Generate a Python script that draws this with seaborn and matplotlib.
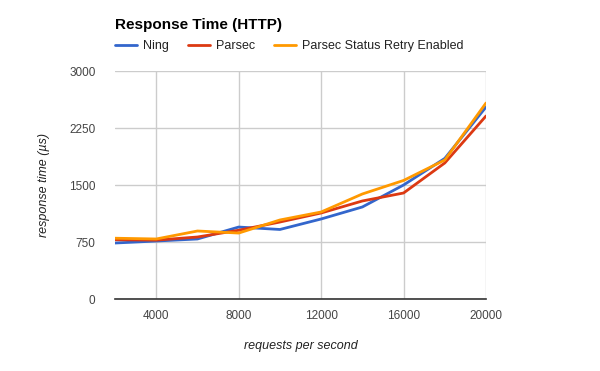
import matplotlib
matplotlib.use('Agg')
import matplotlib.pyplot as plt
import pandas as pd
import seaborn as sns

sns.set_theme(style='white')
plt.rcParams['font.family'] = ['Liberation Sans', 'DejaVu Sans']

# values
rps = [2000, 4000, 6000, 8000, 10000, 12000, 14000, 16000, 18000, 20000]
ning = [737, 763, 790, 947, 915, 1053, 1211, 1500, 1850, 2526]
parsec = [780, 775, 816, 905, 1013, 1132, 1290, 1395, 1790, 2408]
parsec_retry = [800, 790, 895, 868, 1040, 1145, 1382, 1560, 1829, 2579]
series_names = ['Ning', 'Parsec', 'Parsec Status Retry Enabled']
colors = ['#3366cc', '#dc3912', '#ff9900']
x_ticks = [4000, 8000, 12000, 16000, 20000]
y_ticks = [0, 750, 1500, 2250, 3000]

df = pd.DataFrame({
    'rps': rps * 3,
    'time': ning + parsec + parsec_retry,
    'series': [s for s in series_names for _ in rps],
})

fig = plt.figure(figsize=(6, 3.71), dpi=100)
ax = fig.add_axes([0.1917, 0.194, 0.6183, 0.6146])

sns.lineplot(data=df, x='rps', y='time', hue='series', palette=colors,
             hue_order=series_names, linewidth=2, ax=ax, legend=False)

ax.set_xlim(2000, 20000)
ax.set_ylim(0, 3000)
ax.set_xticks(x_ticks)
ax.set_yticks(y_ticks)
ax.grid(True, color='#cccccc', linewidth=1)
ax.tick_params(axis='both', length=0, labelsize=8.5, colors='#444444')
ax.tick_params(axis='x', pad=8)
ax.tick_params(axis='y', pad=14)
for side in ['left', 'top', 'right']:
    ax.spines[side].set_visible(False)
ax.spines['bottom'].set_color('#333333')
ax.spines['bottom'].set_linewidth(1.2)

ax.set_xlabel('requests per second', style='italic', fontsize=9,
              color='#222222', labelpad=13)
ax.set_ylabel('response time (\u00b5s)', style='italic', fontsize=9,
              color='#222222', labelpad=14)

fig.text(115 / 600, 1 - 25 / 371, 'Response Time (HTTP)', fontsize=11,
         fontweight='bold', color='#000000', va='center', ha='left')

handles = [plt.Line2D([], [], color=c, linewidth=2) for c in colors]
fig.legend(handles, series_names, loc='center left',
           bbox_to_anchor=(104 / 600, 1 - 46 / 371), ncol=3, frameon=False,
           fontsize=9, handlelength=1.75, handletextpad=0.5,
           columnspacing=1.5, labelcolor='#222222')

plt.savefig('out.png', dpi=100)
